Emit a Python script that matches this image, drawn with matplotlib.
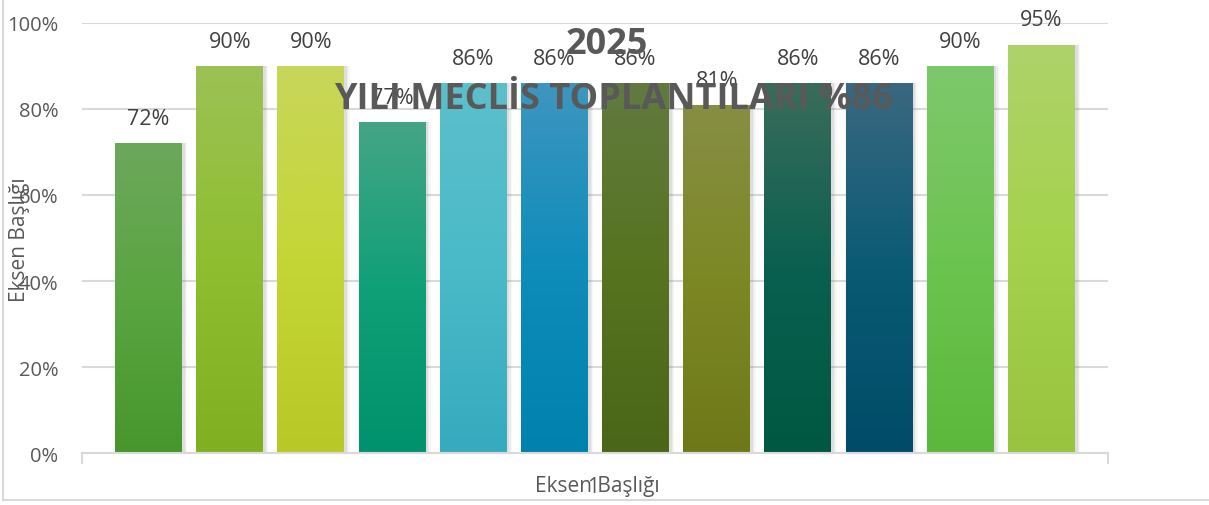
import numpy as np
import matplotlib
matplotlib.use("Agg")
import matplotlib.pyplot as plt
from matplotlib.colors import LinearSegmentedColormap
from matplotlib.lines import Line2D

plt.rcParams['font.family'] = ['Open Sans', 'DejaVu Sans']

# data
categories = ['1']
values = [72, 90, 90, 77, 86, 86, 86, 81, 86, 86, 90, 95]
title_lines = ['2025', 'YILI MECLİS TOPLANTILARI %86']
axis_title = 'Eksen Başlığı'
yticks = [0, 20, 40, 60, 80, 100]

# gradient stops per bar: top, middle, bottom
bar_colors = [
    ('#6ca85c', '#5aa540', '#47962c'),
    ('#9bc255', '#8fbe30', '#80b022'),
    ('#c8d65a', '#c4d636', '#b8c826'),
    ('#45a585', '#10a078', '#00926c'),
    ('#5dbfcb', '#4abac8', '#36aabe'),
    ('#3e96c0', '#0e8cba', '#0082ae'),
    ('#627a40', '#567420', '#4a6618'),
    ('#878e45', '#7c8824', '#6e7818'),
    ('#3a6c5a', '#0a6050', '#005842'),
    ('#3a6880', '#0a5a74', '#004c68'),
    ('#7dc86c', '#6cc450', '#5cb83c'),
    ('#aed36a', '#a4d24c', '#98c440'),
]

W, H = 1209, 506
fig = plt.figure(figsize=(W / 100, H / 100), dpi=100)
ax = fig.add_axes([82 / W, 1 - 454 / H, (1108 - 82) / W, (454 - 24) / H])

x = np.arange(len(values))
width = 0.825

# gridlines
for t in yticks[1:]:
    ax.axhline(t, color='#d9d9d9', lw=1.5, zorder=0)

# soft shadows around the bars
for dx, extra, a in [(0.03, 0.07, 0.06), (0.025, 0.045, 0.09), (0.02, 0.025, 0.12)]:
    ax.bar(x + dx, values, width=width + extra, color='#808080', alpha=a,
           zorder=1, linewidth=0)

grad = np.linspace(0, 1, 256).reshape(-1, 1)
for xi, v, cols in zip(x, values, bar_colors):
    b = ax.bar(xi, v, width=width, color=cols[1], linewidth=0, zorder=2)[0]
    cmap = LinearSegmentedColormap.from_list('g', [cols[2], cols[1], cols[0]])
    im = ax.imshow(grad, cmap=cmap, origin='lower', aspect='auto',
                   extent=[xi - width / 2, xi + width / 2, 0, v], zorder=3)
    im.set_clip_path(b)
    ax.text(xi, v + 3.3, f'{v}%', ha='center', va='bottom', fontsize=15.5,
            color='#404040', zorder=5)

ax.set_xlim(-0.82, len(values) - 1 + 0.82)
ax.set_ylim(0, 100)

for s in ['top', 'right', 'left']:
    ax.spines[s].set_visible(False)
ax.spines['bottom'].set_color('#d9d9d9')
ax.spines['bottom'].set_linewidth(1.5)
ax.spines['bottom'].set_zorder(4)

ax.set_yticks(yticks)
ax.set_yticklabels([f'{t}%' for t in yticks], fontsize=14.5, color='#595959')
ax.tick_params(axis='y', length=0, pad=17)
ax.set_xticks(list(ax.get_xlim()))
ax.set_xticklabels(['', ''])
ax.tick_params(axis='x', length=8, width=1.5, color='#d9d9d9')

# category label and axis titles
ax.text((593 - 82) / (1108 - 82), -0.077, categories[0],
        transform=ax.transAxes, ha='center', va='center', fontsize=15,
        color='#595959')
fig.text(597 / W, 1 - 487 / H, axis_title, ha='center', va='center',
         fontsize=15, color='#595959')
fig.text(20 / W, 1 - 240 / H, axis_title, ha='center', va='center',
         rotation=90, fontsize=15, color='#595959')

# chart title (overlapping the plot)
fig.text(607 / W, 1 - 45 / H, title_lines[0], ha='center', va='center',
         fontsize=26, fontweight='bold', color='#595959', zorder=10)
fig.text(613 / W, 1 - 100 / H, title_lines[1], ha='center', va='center',
         fontsize=26, fontweight='bold', color='#595959', zorder=10)

# outer chart frame
fig.add_artist(Line2D([3 / W, 3 / W], [1 - 501 / H, 1], color='#d9d9d9', lw=1.5))
fig.add_artist(Line2D([3 / W, 1], [1 - 501 / H, 1 - 501 / H], color='#d9d9d9', lw=1.5))

fig.savefig('out.png', dpi=100)
